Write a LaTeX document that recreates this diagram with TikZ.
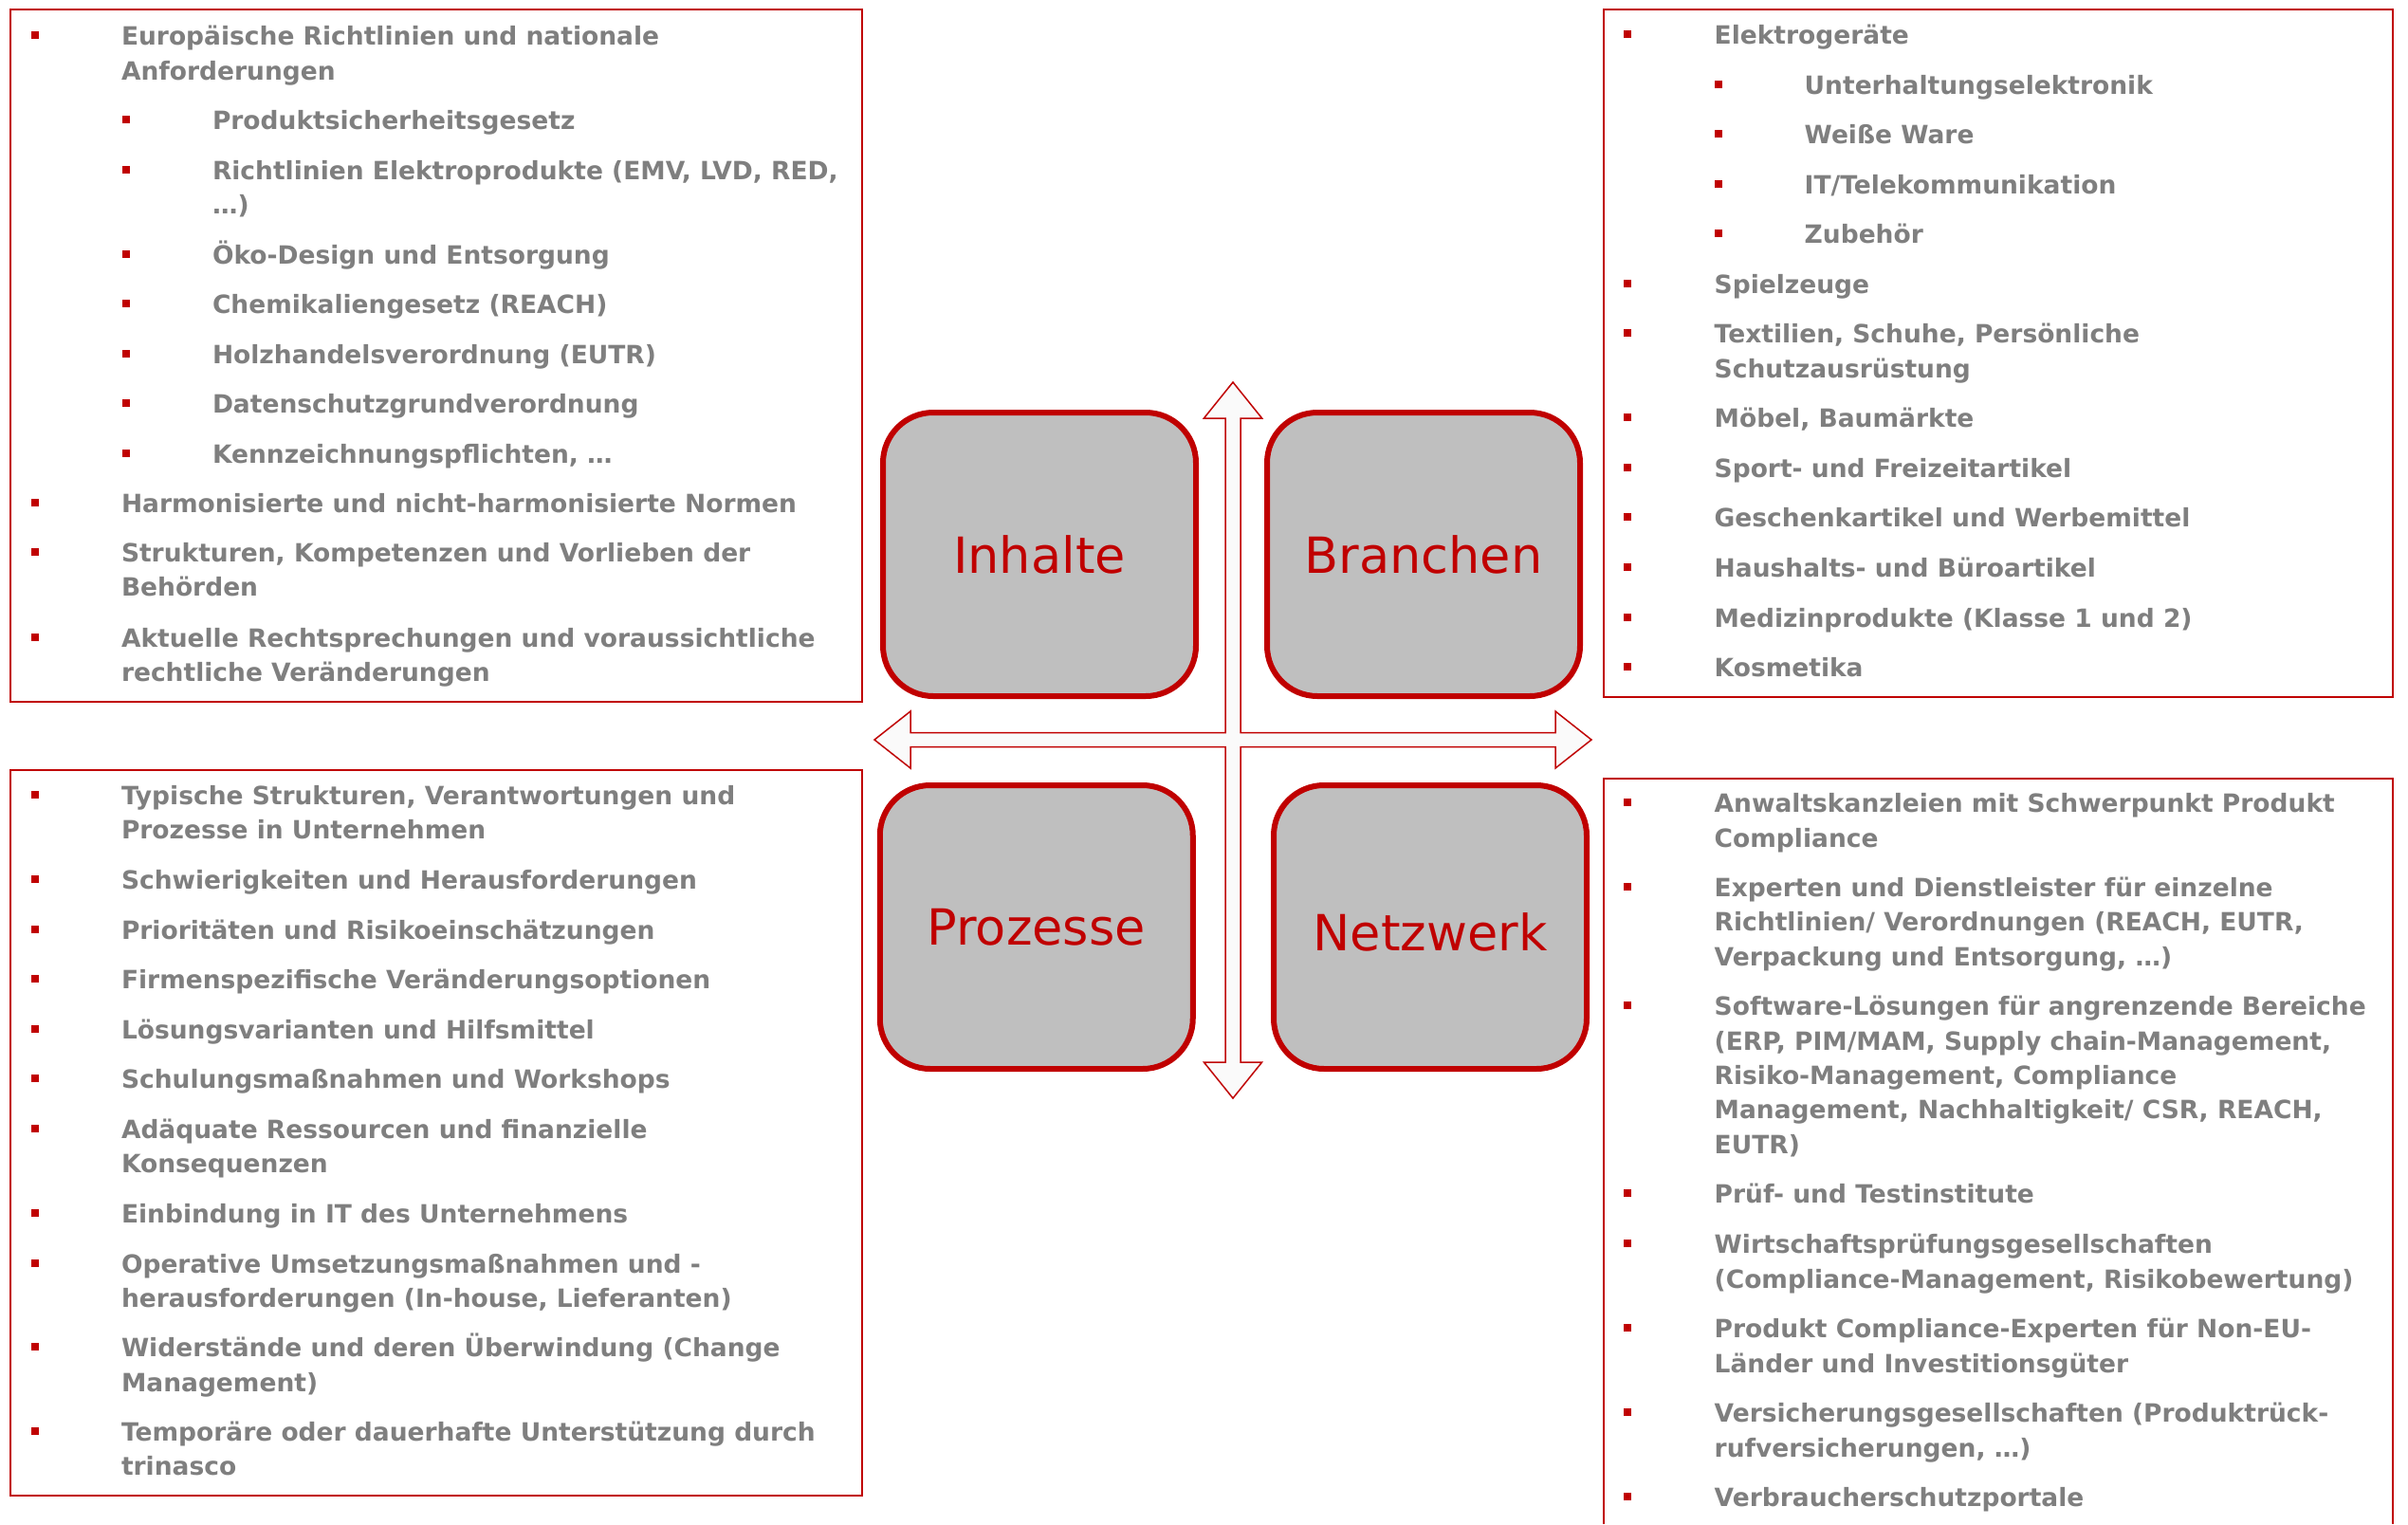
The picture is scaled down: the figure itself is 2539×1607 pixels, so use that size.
\documentclass[tikz,border=0pt]{standalone}
\usepackage{fontspec}
\setmainfont{DejaVu Sans}
\definecolor{tred}{HTML}{C00000}
\definecolor{tgray}{HTML}{7F7F7F}
\definecolor{tbox}{HTML}{BFBFBF}
\definecolor{tarrow}{HTML}{FAFAFA}
\tikzset{
 itm/.style={anchor=base west, inner sep=0pt, outer sep=0pt, text=tgray, font=\fontsize{13.25pt}{16pt}\selectfont\bfseries},
 bul/.style={rectangle, fill=tred, inner sep=0pt, minimum size=4pt},
 listbox/.style={draw=tred, line width=1pt},
 catbox/.style={draw=tred, line width=3pt, fill=tbox, rounded corners=26.5pt, minimum width=165pt, minimum height=149.5pt, text=tred, font=\fontsize{26.25pt}{30pt}\selectfont, inner sep=0pt},
 quadarrow/.style={draw=tred, line width=0.75pt, fill=tarrow, line join=miter},
}
\newcommand\Itm[5]{\node[bul] (b#1) at (#2,#4-10.5) {};\node[itm] (t#1) at (#3,#4) {#5};}
\newcommand\Cont[4]{\node[itm] (t#1) at (#2,#3) {#4};}
\begin{document}
\begin{tikzpicture}[x=0.5pt,y=-0.5pt]
\useasboundingbox (0,0) rectangle (2539,1607);
\fill[white] (0,0) rectangle (2539,1607);
% list frames
\draw[listbox] (11,10) rectangle (909.3,740);
\draw[listbox] (1690.7,10) rectangle (2522.7,735);
\draw[listbox] (11,811.7) rectangle (909.3,1577);
\draw[listbox] (1690.7,1607) -- (1690.7,820.7) -- (2522.7,820.7) -- (2522.7,1607);
% four-way arrow
\draw[quadarrow] (1300,403) -- (1330.6,441) -- (1308,441) -- (1308,772.5) -- (1640,772.5) -- (1640,750) -- (1678,780) -- (1640,810) -- (1640,787.5) -- (1308,787.5) -- (1308,1120) -- (1330.6,1120) -- (1300,1158) -- (1269.4,1120) -- (1292,1120) -- (1292,787.5) -- (960,787.5) -- (960,810) -- (922,780) -- (960,750) -- (960,772.5) -- (1292,772.5) -- (1292,441) -- (1269.4,441) -- cycle;
% category boxes
\node[catbox] (inhalte) at (1096,584.5) {Inhalte};
\node[catbox] (branchen) at (1501,584.5) {Branchen};
\node[catbox] (prozesse) at (1092.75,977.5) {Prozesse};
\node[catbox, text height=25pt, text depth=0pt] (netzwerk) at (1508,977.5) {Netzwerk};
% top-left list
\Itm{a1}{36.7}{128}{47.7}{Europäische Richtlinien und nationale}
\Cont{a1b}{128}{84.0}{Anforderungen}
\Itm{a2}{133}{224}{136.6}{Produktsicherheitsgesetz}
\Itm{a3}{133}{224}{189.2}{Richtlinien Elektroprodukte (EMV, LVD, RED,}
\Cont{a3b}{224}{225.5}{…)}
\Itm{a4}{133}{224}{278.1}{Öko-Design und Entsorgung}
\Itm{a5}{133}{224}{330.7}{Chemikaliengesetz (REACH)}
\Itm{a6}{133}{224}{383.3}{Holzhandelsverordnung (EUTR)}
\Itm{a7}{133}{224}{435.9}{Datenschutzgrundverordnung}
\Itm{a8}{133}{224}{488.5}{Kennzeichnungspflichten, …}
\Itm{a9}{36.7}{128}{540.3}{Harmonisierte und nicht-harmonisierte Normen}
\Itm{a10}{36.7}{128}{592.5}{Strukturen, Kompetenzen und Vorlieben der}
\Cont{a10b}{128}{628.8}{Behörden}
\Itm{a11}{36.7}{128}{682.0}{Aktuelle Rechtsprechungen und voraussichtliche}
\Cont{a11b}{128}{718.3}{rechtliche Veränderungen}
% top-right list
\Itm{c1}{1716}{1807.7}{46.7}{Elektrogeräte}
\Itm{c2}{1812}{1902.7}{99.3}{Unterhaltungselektronik}
\Itm{c3}{1812}{1902.7}{151.9}{Weiße Ware}
\Itm{c4}{1812}{1902.7}{204.5}{IT/Telekommunikation}
\Itm{c5}{1812}{1902.7}{256.8}{Zubehör}
\Itm{c6}{1716}{1807.7}{309.5}{Spielzeuge}
\Itm{c7}{1716}{1807.7}{361.8}{Textilien, Schuhe, Persönliche}
\Cont{c7b}{1807.7}{398.1}{Schutzausrüstung}
\Itm{c8}{1716}{1807.7}{450.7}{Möbel, Baumärkte}
\Itm{c9}{1716}{1807.7}{503.5}{Sport- und Freizeitartikel}
\Itm{c10}{1716}{1807.7}{555.9}{Geschenkartikel und Werbemittel}
\Itm{c11}{1716}{1807.7}{608.8}{Haushalts- und Büroartikel}
\Itm{c12}{1716}{1807.7}{661.0}{Medizinprodukte (Klasse 1 und 2)}
\Itm{c13}{1716}{1807.7}{713.2}{Kosmetika}
% bottom-left list
\Itm{p1}{36.7}{128}{848.6}{Typische Strukturen, Verantwortungen und}
\Cont{p1b}{128}{884.9}{Prozesse in Unternehmen}
\Itm{p2}{36.7}{128}{937.5}{Schwierigkeiten und Herausforderungen}
\Itm{p3}{36.7}{128}{990.1}{Prioritäten und Risikoeinschätzungen}
\Itm{p4}{36.7}{128}{1042.7}{Firmenspezifische Veränderungsoptionen}
\Itm{p5}{36.7}{128}{1095.3}{Lösungsvarianten und Hilfsmittel}
\Itm{p6}{36.7}{128}{1147.9}{Schulungsmaßnahmen und Workshops}
\Itm{p7}{36.7}{128}{1200.5}{Adäquate Ressourcen und finanzielle}
\Cont{p7b}{128}{1236.8}{Konsequenzen}
\Itm{p8}{36.7}{128}{1289.4}{Einbindung in IT des Unternehmens}
\Itm{p9}{36.7}{128}{1342.0}{Operative Umsetzungsmaßnahmen und -}
\Cont{p9b}{128}{1378.0}{herausforderungen (In-house, Lieferanten)}
\Itm{p10}{36.7}{128}{1430.6}{Widerstände und deren Überwindung (Change}
\Cont{p10b}{128}{1467.0}{Management)}
\Itm{p11}{36.7}{128}{1519.8}{Temporäre oder dauerhafte Unterstützung durch}
\Cont{p11b}{128}{1555.8}{trinasco}
% bottom-right list
\Itm{n1}{1716}{1807.7}{856.7}{Anwaltskanzleien mit Schwerpunkt Produkt}
\Cont{n1b}{1807.7}{893.0}{Compliance}
\Itm{n2}{1716}{1807.7}{945.6}{Experten und Dienstleister für einzelne}
\Cont{n2b}{1807.7}{981.9}{Richtlinien/ Verordnungen (REACH, EUTR,}
\Cont{n2c}{1807.7}{1018.2}{Verpackung und Entsorgung, …)}
\Itm{n3}{1716}{1807.7}{1070.8}{Software-Lösungen für angrenzende Bereiche}
\Cont{n3b}{1807.7}{1107.1}{(ERP, PIM/MAM, Supply chain-Management,}
\Cont{n3c}{1807.7}{1143.4}{Risiko-Management, Compliance}
\Cont{n3d}{1807.7}{1179.7}{Management, Nachhaltigkeit/ CSR, REACH,}
\Cont{n3e}{1807.7}{1216.0}{EUTR)}
\Itm{n4}{1716}{1807.7}{1268.6}{Prüf- und Testinstitute}
\Itm{n5}{1716}{1807.7}{1321.6}{Wirtschaftsprüfungsgesellschaften}
\Cont{n5b}{1807.7}{1358.3}{(Compliance-Management, Risikobewertung)}
\Itm{n6}{1716}{1807.7}{1410.8}{Produkt Compliance-Experten für Non-EU-}
\Cont{n6b}{1807.7}{1447.2}{Länder und Investitionsgüter}
\Itm{n7}{1716}{1807.7}{1499.5}{Versicherungsgesellschaften (Produktrück-}
\Cont{n7b}{1807.7}{1536.0}{rufversicherungen, …)}
\Itm{n8}{1716}{1807.7}{1588.0}{Verbraucherschutzportale}
\end{tikzpicture}
\end{document}
